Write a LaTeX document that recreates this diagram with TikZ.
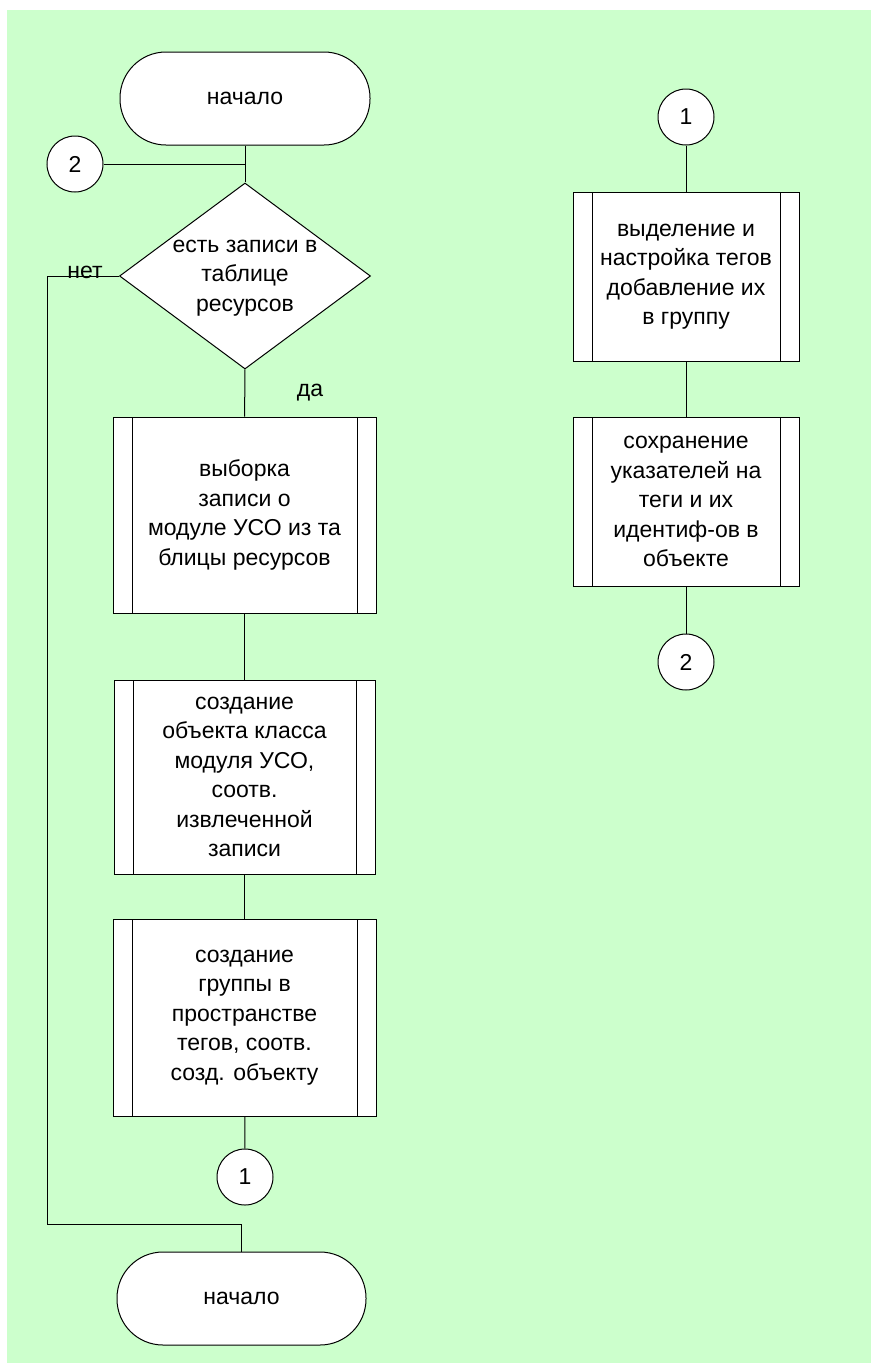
\documentclass[tikz,border=0pt]{standalone}
\usepackage{fontspec}
\setmainfont{Liberation Sans}
\usetikzlibrary{shapes.geometric}
\definecolor{sheet}{HTML}{CCFFCC}
\begin{document}
\begin{tikzpicture}[x=1pt, y=-1pt, line width=1pt,
  txt/.style={font=\fontsize{23}{29.5}\selectfont, align=center},
  term/.style={txt, draw, fill=white, rectangle, rounded corners=46pt,
    minimum width=250pt, minimum height=93pt, inner sep=0pt},
  proc/.style={txt, draw, fill=white, rectangle, inner sep=0pt,
    path picture={
      \draw ([xshift=19pt]path picture bounding box.north west) -- ([xshift=19pt]path picture bounding box.south west);
      \draw ([xshift=-19pt]path picture bounding box.north east) -- ([xshift=-19pt]path picture bounding box.south east);
    }},
  conn/.style={txt, draw, fill=white, circle, minimum size=56pt, inner sep=0pt},
  dec/.style={draw, fill=white, diamond, aspect=1.35, inner sep=0pt,
    minimum width=251pt, minimum height=186pt},
]
\useasboundingbox (0,0) rectangle (871,1363);
\fill[sheet] (7,10) rectangle (871,1363);

% left column
\node[term] (t1) at (245,98.5) {начало};
\node[conn] (c2a) at (75,164) {2};
\node[dec] (d1) at (245,276) {};
\node[txt] (d1t) at (245,278) {есть записи в\\таблице\\ресурсов};
\node[proc, minimum width=263pt, minimum height=196pt] (b1) at (244.5,515)
  {выборка\\записи о\\модуле УСО из та\\блицы ресурсов};
\node[proc, minimum width=261pt, minimum height=194pt] (b2) at (244.5,777)
  {создание\\объекта класса\\модуля УСО,\\соотв.\\извлеченной\\записи};
\node[proc, minimum width=263pt, minimum height=197pt] (b3) at (244.5,1017.5)
  {создание\\группы в\\пространстве\\тегов, соотв.\\созд. объекту};
\node[conn] (c1a) at (245,1177) {1};
\node[term, minimum width=249pt] (t2) at (241.5,1298.5) {начало};
\coordinate (nl) at (47,1224);

\node[txt] (no) at (85,272) {нет};
\node[txt] (yes) at (310,393) {да};

% right column
\node[conn] (c1b) at (686,117) {1};
\node[proc, minimum width=226pt, minimum height=169pt] (r1) at (686,276.5)
  {выделение и\\настройка тегов\\добавление их\\в группу};
\node[proc, minimum width=226pt, minimum height=169pt] (r2) at (686,501.5)
  {сохранение\\указателей на\\теги и их\\идентиф-ов в\\объекте};
\node[conn] (c2b) at (686,662) {2};

% connectors
\draw (t1) -- (d1);
\draw (c2a.east) -- (c2a.east -| t1.south);
\draw (d1) -- (b1);
\draw (b1) -- (b2);
\draw (b2) -- (b3);
\draw (b3) -- (c1a);
\draw (d1.west) -| (nl) -| (t2.north);
\draw (c1b) -- (r1);
\draw (r1) -- (r2);
\draw (r2) -- (c2b);
\end{tikzpicture}
\end{document}
